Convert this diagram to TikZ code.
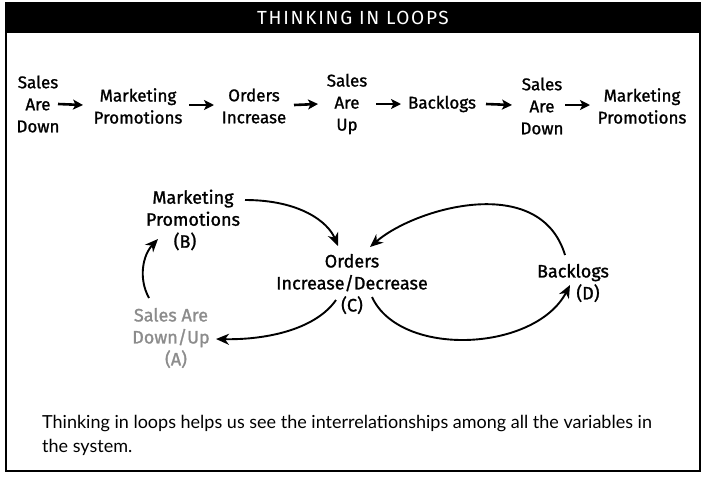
\documentclass[tikz,border=0pt]{standalone}
\usepackage{fontspec}
\setmainfont{Lato}
\newfontfamily\handfont[FakeBold=1.2]{Fira Sans}
\newfontfamily\titlefont[LetterSpace=9]{Fira Sans}
\usetikzlibrary{arrows.meta,calc}
\begin{document}
\begin{tikzpicture}[x=1pt,y=-1pt,
  hand/.style={font=\handfont\fontsize{17}{22}\selectfont, align=center, inner sep=0pt},
  loopt/.style={font=\handfont\fontsize{18}{22}\selectfont, align=center, inner sep=0pt},
  toparrow/.style={line width=2.6pt, -{Stealth[length=10pt,width=10pt,inset=2.5pt]}},
  looparrow/.style={line width=1.9pt, -{Stealth[length=13pt,width=11pt,inset=4pt]}},
]
\useasboundingbox (0,0) rectangle (706,477);
\fill[white] (0,0) rectangle (706,477);
\draw[line width=2pt] (6,3) rectangle (700,471);
\fill[black] (6,3) rectangle (700,33);
\node[font=\titlefont\fontsize{19}{22}\selectfont, text=white, inner sep=0pt] (title) at (353,18) {THINKING IN LOOPS};

% top row
\node[hand] (s1) at (38,104) {Sales\\Are\\Down};
\node[hand] (m1) at (138,106) {Marketing\\Promotions};
\node[hand] (o1) at (254,106) {Orders\\Increase};
\node[hand] (s2) at (347,104) {Sales\\Are\\Up};
\node[hand] (b1) at (442,104) {Backlogs};
\node[hand] (s3) at (542,106) {Sales\\Are\\Down};
\node[hand] (m2) at (642,106) {Marketing\\Promotions};

\draw[toparrow] ($(s1)+(20,0)$) -- ($(m1)+(-55,-1)$);
\draw[toparrow] ($(m1)+(51,-1)$) -- ($(o1)+(-40,-1)$);
\draw[toparrow] ($(o1)+(40,-1)$) -- ($(s2)+(-29,0)$);
\draw[toparrow] ($(s2)+(29,0)$) -- ($(b1)+(-41,0)$);
\draw[toparrow] ($(b1)+(44,0)$) -- ($(s3)+(-30,-1)$);
\draw[toparrow] ($(s3)+(23,-1)$) -- ($(m2)+(-52,-1)$);

% loop
\node[loopt] (B) at (193,220) {Marketing\\Promotions\\(B)\hspace*{16pt}};
\node[loopt] (C) at (352,284) {Orders\\Increase/Decrease\\(C)};
\node[loopt] (D) at (573,283) {Backlogs\\\hspace*{30pt}(D)};
\node[loopt, text=black!45] (A) at (171,338) {Sales Are\\Down/Up\\\hspace*{10pt}(A)};

\draw[looparrow] ($(B)+(52,-20)$) .. controls (300,200) and (328,222) .. ($(C)+(-14,-38)$);
\draw[looparrow] ($(D)+(-8,-28)$) .. controls (540,172) and (415,208) .. ($(C)+(18,-37)$);
\draw[looparrow] ($(C)+(20,13)$) .. controls (400,358) and (535,352) .. ($(D)+(-3,2)$);
\draw[looparrow] ($(C)+(-16,16)$) .. controls (315,330) and (265,340) .. ($(A)+(45,1)$);
\draw[looparrow] ($(A)+(-22,-40)$) .. controls (138,278) and (143,255) .. ($(B)+(-35,19)$);

% caption
\node[anchor=west, align=left, inner sep=0pt, font=\fontsize{18}{24}\selectfont] (cap) at (42,435)
  {Thinking in loops helps us see the interrelationships among all the variables in\\the system.};
\end{tikzpicture}
\end{document}
